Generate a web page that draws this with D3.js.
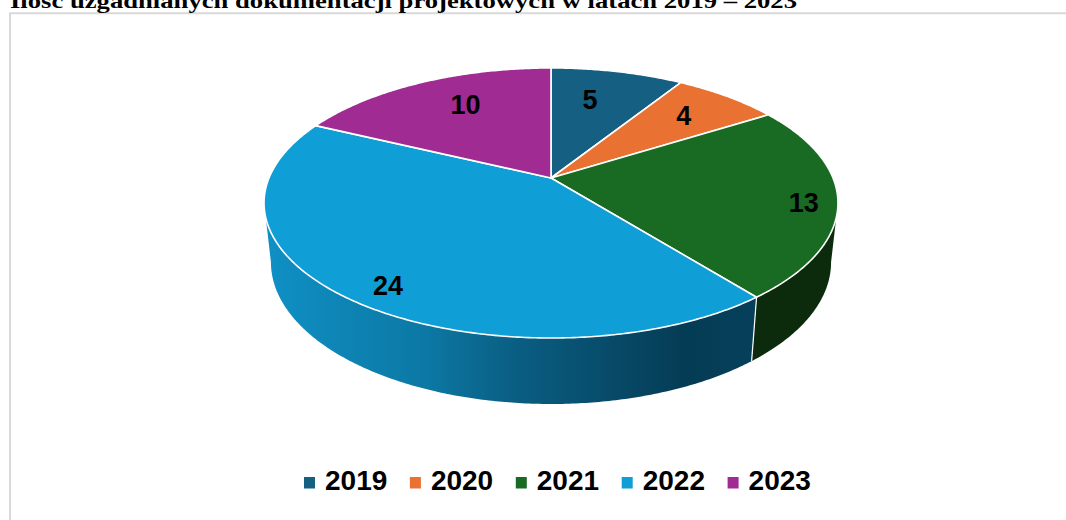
<!DOCTYPE html>
<html>
<head>
<meta charset="utf-8">
<script src="https://cdnjs.cloudflare.com/ajax/libs/d3/7.8.5/d3.min.js"></script>
<style>
html, body { margin: 0; padding: 0; background: #fff; overflow: hidden; }
text { font-family: "Liberation Sans", Arial, sans-serif; font-weight: bold; fill: #000; }
</style>
</head>
<body>
<svg id="chart" width="1066" height="520"></svg>
<script>
var title = "Ilość uzgadnianych dokumentacji projektowych w latach 2019 – 2023";
var years = ["2019", "2020", "2021", "2022", "2023"];
var counts = [5, 4, 13, 24, 10];
var colors = ["#156082", "#e97132", "#196b24", "#0f9ed5", "#a02b93"];
var sideColors = ["#0b3345", "#7c3c1a", "#0c2a0c", "#0f9ed5", "#551749"];

var svg = d3.select("#chart");

// frame of the embedded chart, runs off the picture on the right and bottom
svg.append("path")
  .attr("d", "M10,521V13.3H1067")
  .attr("fill", "none")
  .attr("stroke", "#d9d9d9")
  .attr("stroke-width", 2);

svg.append("text")
  .attr("x", 10)
  .attr("y", 8)
  .attr("textLength", 787)
  .attr("lengthAdjust", "spacingAndGlyphs")
  .style("font-family", "'Liberation Serif', serif")
  .style("font-size", "21px")
  .text(title);

// perspective projection of the pie disc, fitted to the picture
var cx = 551, cy = 178, rx = 282, ry = 130.4, persp = 0.185;
var depth = 58, shrinkX = 0.976, shrinkY = 1.05;

function project(angle, level, r) {
  if (r === undefined) r = 1;
  var u = r * Math.sin(angle), v = -r * Math.cos(angle);
  var w = 1 - persp * v;
  return [cx + (level ? shrinkX : 1) * rx * u / w,
          cy + (level ? depth : 0) + (level ? shrinkY : 1) * ry * v / w];
}

function arcPoints(a0, a1, level) {
  var n = Math.max(2, Math.ceil((a1 - a0) / 0.01));
  return d3.range(n + 1).map(function(i) {
    return project(a0 + (a1 - a0) * i / n, level);
  });
}

var line = d3.line();
var slices = d3.pie().sort(null)(counts);

// the front wall runs between the two points where the disc is widest
var edge = Math.asin(persp);
var wallStart = Math.PI / 2 + edge, wallEnd = 1.5 * Math.PI - edge;

var defs = svg.append("defs");
var grad = defs.append("linearGradient")
  .attr("id", "wall2022")
  .attr("gradientUnits", "userSpaceOnUse")
  .attr("x1", 264).attr("x2", 757).attr("y1", 0).attr("y2", 0);
var stops = [[0, "#0f90c5"], [0.33, "#0c78a4"], [0.5, "#0a5f84"], [0.85, "#053c55"], [1, "#05405a"]];
stops.forEach(function(d) {
  grad.append("stop").attr("offset", d[0]).attr("stop-color", d[1]);
});

slices.forEach(function(d, i) {
  var from = Math.max(d.startAngle, wallStart);
  var to = Math.min(d.endAngle, wallEnd);
  if (to <= from) return;
  var top = arcPoints(from, to, 0);
  var bottom = arcPoints(from, to, 1).reverse();
  svg.append("path")
    .attr("d", line(top.concat(bottom)) + "Z")
    .attr("fill", years[i] == "2022" ? "url(#wall2022)" : sideColors[i])
    .attr("stroke", "none");
  // white edge where two walls meet
  if (d.startAngle > wallStart) {
    svg.append("path")
      .attr("d", line([project(d.startAngle, 0), project(d.startAngle, 1)]))
      .attr("stroke", "#fff").attr("stroke-width", 1.2);
  }
});

// top of the disc
slices.forEach(function(d, i) {
  var pts = [[cx, cy]].concat(arcPoints(d.startAngle, d.endAngle, 0));
  svg.append("path")
    .attr("d", line(pts) + "Z")
    .attr("fill", colors[i])
    .attr("stroke", "#fff")
    .attr("stroke-width", 1.6)
    .attr("stroke-linejoin", "round");
});

// value labels, radius and small turn (degrees) per slice
var labelRadius = [0.69, 0.735, 0.885, 0.875, 0.718];
var labelTurn = [-3, -0.4, 2, -3.6, 4];
slices.forEach(function(d, i) {
  var mid = (d.startAngle + d.endAngle) / 2 + labelTurn[i] * Math.PI / 180;
  var p = project(mid, 0, labelRadius[i]);
  svg.append("text")
    .attr("x", p[0])
    .attr("y", p[1])
    .attr("dy", "0.35em")
    .attr("text-anchor", "middle")
    .style("font-size", "27px")
    .text(counts[i]);
});

// legend
var legend = svg.append("g").attr("transform", "translate(304,482)");
var legendX = d3.scaleBand().domain(years).range([0, 529.5]);
years.forEach(function(y, i) {
  var g = legend.append("g").attr("transform", "translate(" + legendX(y) + ",0)");
  g.append("rect")
    .attr("x", 0).attr("y", -5)
    .attr("width", 11).attr("height", 11.5)
    .attr("fill", colors[i]);
  g.append("text")
    .attr("x", 21)
    .attr("y", -2)
    .attr("dy", "0.35em")
    .style("font-size", "28px")
    .text(y);
});
</script>
</body>
</html>
